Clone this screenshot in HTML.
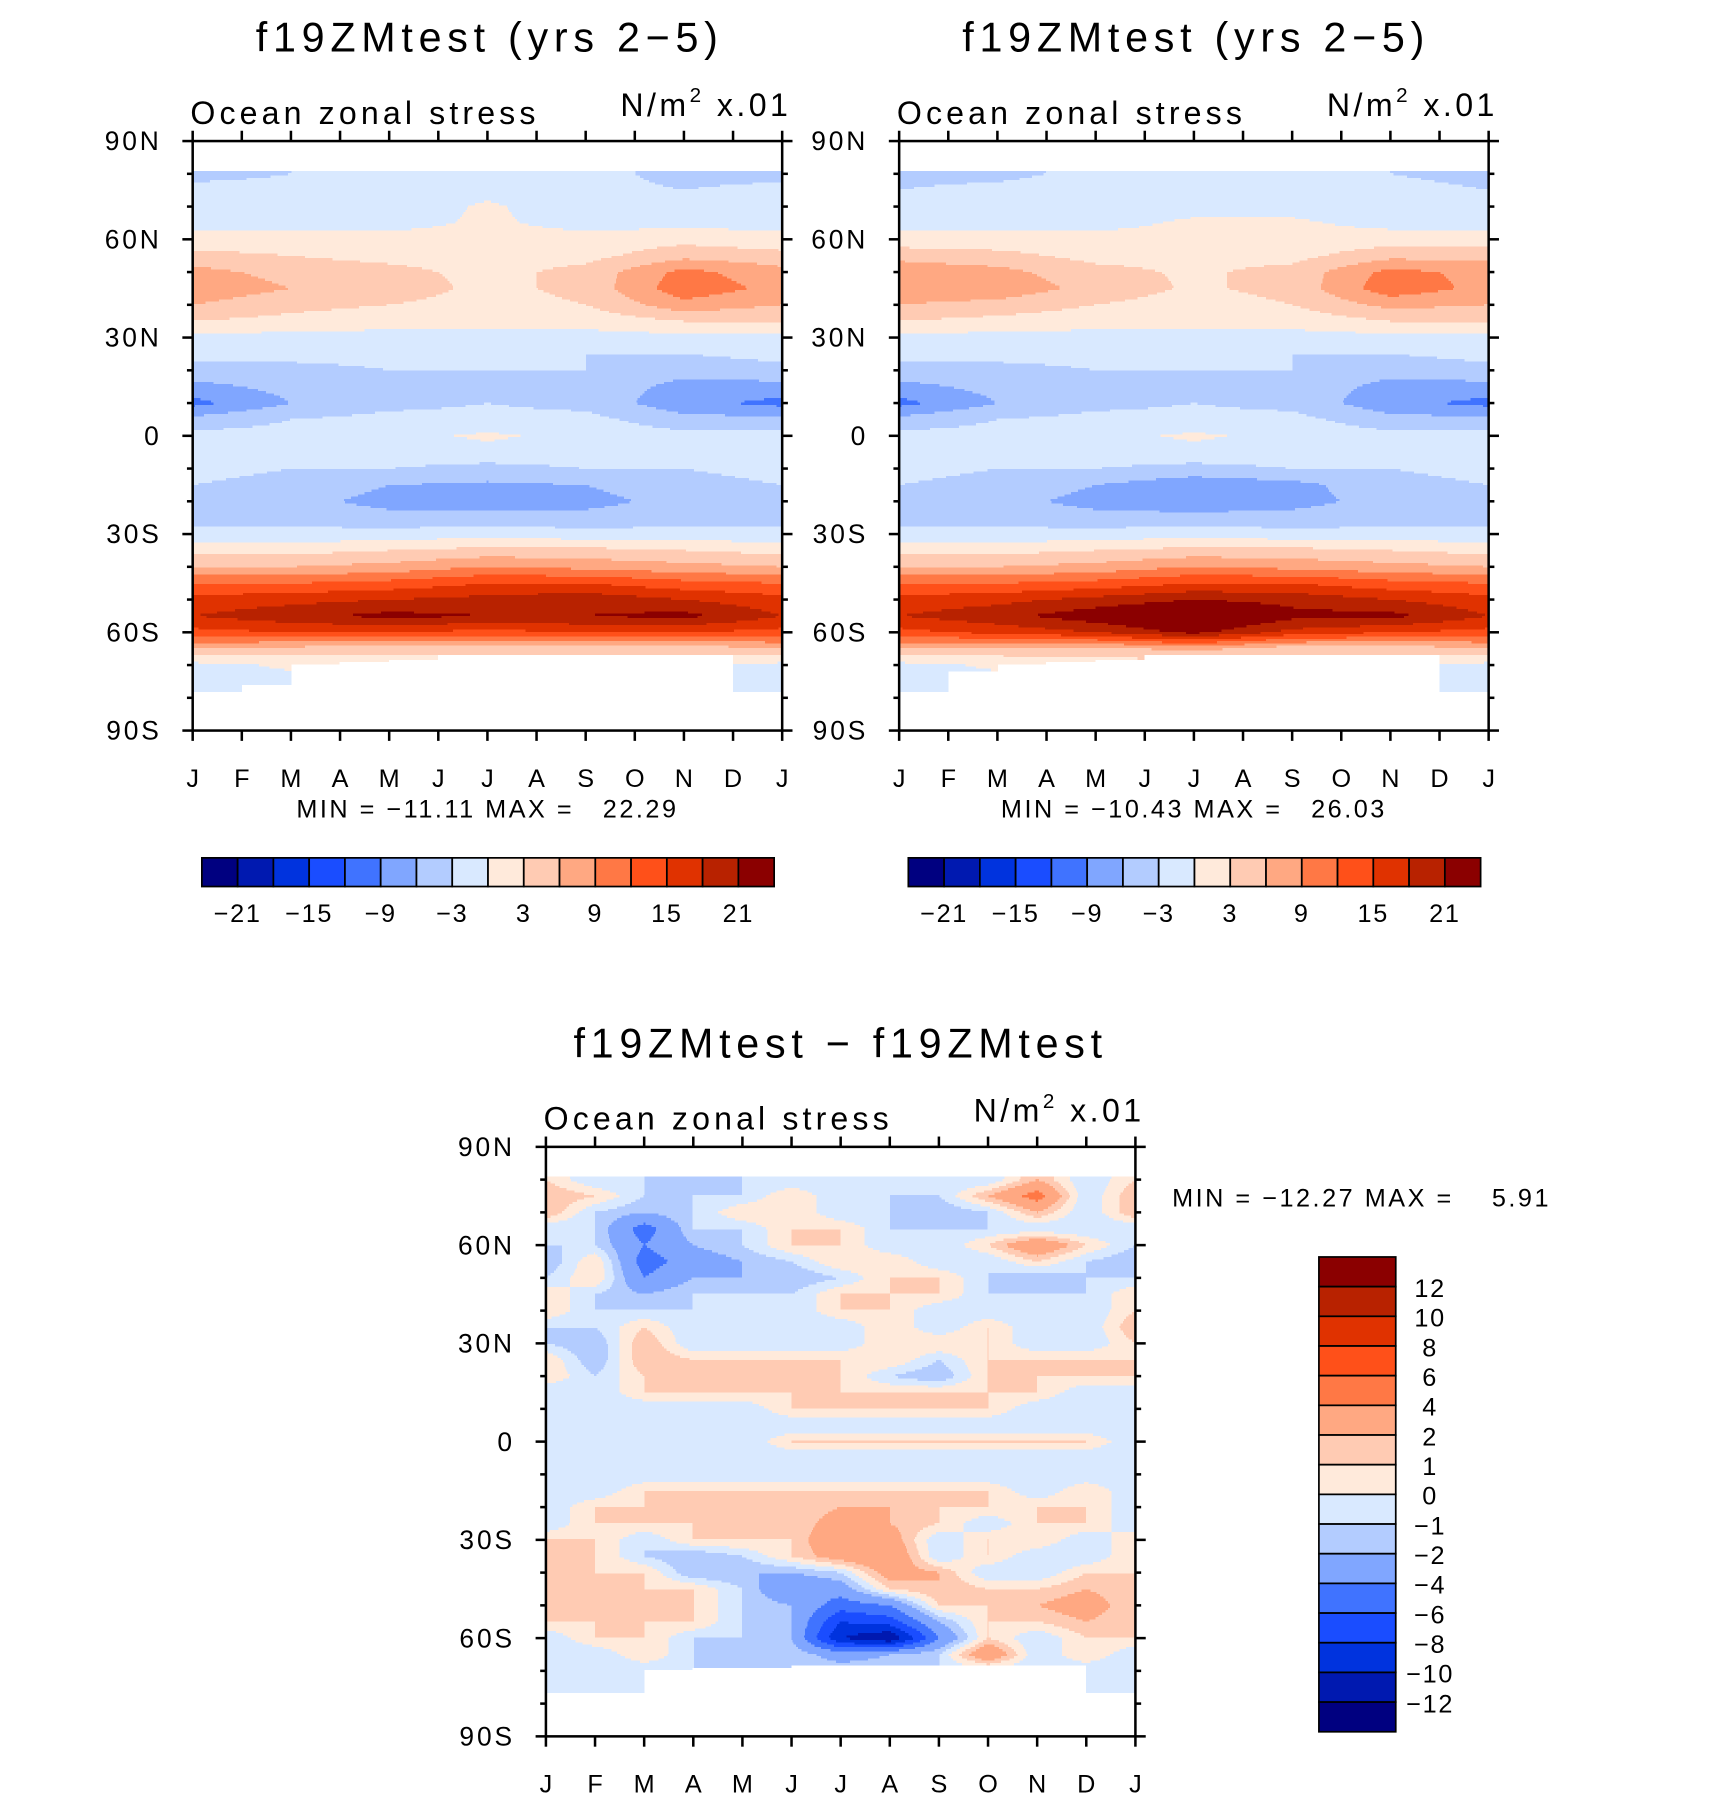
<!DOCTYPE html>
<html><head><meta charset="utf-8"><style>
html,body{margin:0;padding:0;background:#fff;}
svg{display:block;}
text{font-family:"Liberation Sans","DejaVu Sans",sans-serif;fill:#000;white-space:pre;}
</style></head><body>
<svg id="fig" width="1710" height="1796" viewBox="0 0 1491 1566" xmlns="http://www.w3.org/2000/svg">
<g id="layer"></g>
</svg>
<script>
// ---- data ----
const months = ["J","F","M","A","M","J","J","A","S","O","N","D","J"];
const latTicks = ["90N","60N","30N","0","30S","60S","90S"];
const rowLats = [80,75,70,65,60,55,50,45,40,35,30,25,20,15,10,5,0,-5,-10,-15,-20,-25,-30,-35,-40,-45,-50,-55,-60,-65,-70,-75,-80];
const colors = ["#000080","#0019b0","#0033de","#1a4dff","#4073ff","#80a6ff","#b3ccff","#d9e9ff","#ffeadb","#ffcbb3","#ffa882","#ff7845","#ff5019","#e03200","#b82200","#8b0000"];
const levels12 = [-21,-18,-15,-12,-9,-6,-3,0,3,6,9,12,15,18,21];
const levelsDiff = [-12,-10,-8,-6,-4,-2,-1,0,1,2,4,6,8,10,12];
const cbLabels12 = ["-21","-15","-9","-3","3","9","15","21"];
const cbLabelsDiff = ["12","10","8","6","4","2","1","0","-1","-2","-4","-6","-8","-10","-12"];
// panel 1: columns J,M,M,J,S,N,J
const p1 = [
[-4,-3,-2,-2,-2,-4,-4],[-2,-2,-1,-1,-2,-3,-2],[-2,-1,-2,0.5,-2,-2,-2],[-1,-1,-1,0.5,-1,-1,-1],
[1,1,1,1,1,2,1],[4,3,2,1.5,2,5,4],[7,5,4,2,4,10,7],[8,6,5,2,4,11,8],[6,4,3,1.5,3,8,6],[3,2,1,1,1,3,3],
[-1,-1,-1,-1,-1,-1,-1],[-2,-2,-2,-2,-3,-3,-2],[-4,-4,-3,-3,-3,-5,-4],[-7,-5,-4,-3,-4,-7,-7],[-10,-6,-4,-3,-4,-8,-10],
[-5,-3,-2,-2,-2,-5,-5],[-2,-2,-1,0.5,-1,-2,-2],[-1.5,-2,-1.5,-1,-1.5,-2,-1.5],[-2,-3,-3,-4,-3,-3,-2],[-3,-4,-6,-6.5,-6,-4,-3],
[-3.5,-5,-7,-7,-7,-5,-3.5],[-4,-4,-5,-5,-5,-4,-4],[-2,-2,-2,-1,-2,-2,-2],[2,2,3,4,4,3,2],[6,6,7,9,8,7,6],
[12,12,13,15,15,13,12],[16,17,18,19,20,18,16],[18,20,22,21,21,22,18],[14,15,15,14,15,15,14],[6,5,4,4,4,4,6],
[-1,0.5,1,1,1,1,-1],[-1,-1,-1,-1,-1,-1,-1],[-1,-1,-1,-1,-1,-1,-1]];
const p2 = [
[-4,-4,-2,-2,-2,-3,-4],[-3,-2,-1,-1,-2,-2,-3],[-2,-1,-1,-1,-1,-2,-2],[-1,-1,-1,0.5,0.5,-1,-1],
[1,1,1,1,1,1.5,1],[5,4,2,2,2,5,5],[8,7,4,2.5,4,10,8],[8,8,5,2.5,4,11,8],[6,5,3,1.5,3,7,6],[3,2,1,1,1,3,3],
[-1,-1,-1,-1,-1,-1,-1],[-2,-2,-2,-2,-3,-3,-2],[-4,-4,-3,-3,-3,-5,-4],[-7,-5,-4,-3,-4,-7,-7],[-10,-6,-4,-3,-4,-8,-10],
[-5,-3,-2,-2,-2,-5,-5],[-2,-2,-1,0.5,-1,-2,-2],[-1.5,-2,-1.5,-1,-1.5,-2,-1.5],[-2,-3,-3,-4,-3,-3,-2],[-3,-4,-6,-8,-7,-4,-3],
[-3.5,-5,-7,-8,-7,-5,-3.5],[-4,-4,-5,-5,-5,-4,-4],[-2,-2,-2,-1,-2,-2,-2],[2,2,3,4,4,3,2],[6,6,7,9,8,7,6],
[12,12,13,15,15,13,12],[16,17,19,21,20,18,16],[18,20,23,26,22,22,18],[14,16,18,22,17,15,14],[6,5,5,7,4,4,6],
[-1,0.5,1,1,1,1,-1],[-1,-1,-1,-1,-1,-1,-1],[-1,-1,-1,-1,-1,-1,-1]];
// panel 3: monthly columns J..J
const p3 = [
[1,-1,-1,-2,-1,-1,-1,-1,-1,-1,2,-1,1],[2,1,-1,-1,-1,1,-1,-1,-1,2,5,-1,2],[2,-1,-2,-1,1,1,-1,-1,-2,-1,2,-1,2],
[-1,-1,-5,-1,-1,1,1,-1,-1,-1,-1,-1,-1],[-1,-1,-4,-2,-1,1,1,-1,-1,1,4,1,-1],[-2,1,-5,-3,-2,-1,1,1,-1,-1,1,-1,-2],
[-1,1,-4,-2,-2,-2,-1,1,1,-1,-2,-1,-1],[1,-1,-2,-1,-1,-1,1,1,1,-1,-1,-1,1],[1,-1,-1,-1,-1,-1,1,1,-1,-1,-1,-1,1],
[-1,-1,1,-1,-1,-1,-1,1,-1,1,-1,-1,2],[-1,-2,2,-1,-1,-1,-1,1,1,1,-1,-1,1],[1,-2,2,1,1,1,1,1,-1,1,1,1,1],
[1,-1,1,1,2,1,1,-1,-2,1,1,1,1],[-1,-1,1,1,1,1,1,1,1,1,1,-1,-1],[-1,-1,-1,-1,-1,1,1,1,1,1,-1,-1,-1],
[-1,-1,-1,-1,-1,-1,-1,-1,-1,-1,-1,-1,-1],[-1,-1,-1,-1,-1,1,1,1,1,1,1,1,-1],[-1,-1,-1,-1,-1,-1,-1,-1,-1,-1,-1,-1,-1],
[-1,-1,-1,-1,-1,-1,-1,-1,-1,-1,-1,-1,-1],[-1,-1,1,1,1,1,1,1,1,1,-1,1,-1],[-1,1,1,2,1,1,2,2,1,1,1,1,-1],
[-1,1,1,1,1,1,3,2,1,-1,1,1,-1],[1,1,-1,1,1,1,4,3,-1,1,1,-1,1],[1,1,-1,-2,-1,1,3,4,-1,1,-1,-1,1],
[1,1,1,-2,-2,-2,-1,3,2,-1,-1,1,1],[1,1,1,1,-1,-4,-3,1,2,1,1,2,1],[1,2,2,1,-1,-2,-5,-4,1,1,2,3,1],
[1,1,1,1,-1,-2,-8,-7,-2,1,1,2,1],[-1,1,1,-1,-1,-2,-10,-12,-4,1,-1,1,1],[-1,-1,1,-1,-2,-1,-3,-2,-1,4,-1,1,-1],
[-1,-1,-1,-1,-1,-1,-1,-1,-1,-1,-1,-1,-1],[-1,-1,-1,-1,-1,-1,-1,-1,-1,-1,-1,-1,-1],[-1,-1,-1,-1,-1,-1,-1,-1,-1,-1,-1,-1,-1]];
const cut1 = [-78,-76,-70,-69,-68,-67,-67,-67,-67,-67,-67,-78];
const cut2 = [-78,-72,-70,-69,-68,-67,-67,-67,-67,-67,-67,-78];
const cut3 = [-77,-77,-70,-69,-69,-68,-68,-68,-68,-68,-68,-77];
const northCut = 81;

const NS = "http://www.w3.org/2000/svg";
const layer = document.getElementById('layer');
function mk(tag, attrs, parent){const e=document.createElementNS(NS,tag);for(const k in attrs)e.setAttribute(k,attrs[k]);(parent||layer).appendChild(e);return e;}
function txt(x,y,s,size,anchor,parent){const t=mk('text',{x:x,y:y,'font-size':size,'text-anchor':anchor||'start'},parent);t.textContent=s;return t;}

function sample(grid, xf, lat){
  const C = grid[0].length;
  let fx = xf*(C-1); let i0=Math.min(Math.floor(fx),C-2); let tx=fx-i0;
  let fr = (rowLats[0]-lat)/5; fr=Math.max(0,Math.min(rowLats.length-1,fr));
  let j0=Math.min(Math.floor(fr),rowLats.length-2); let ty=fr-j0;
  const a=grid[j0][i0],b=grid[j0][i0+1],c=grid[j0+1][i0],d=grid[j0+1][i0+1];
  return (a*(1-tx)+b*tx)*(1-ty)+(c*(1-tx)+d*tx)*ty;
}
function colorIdx(v,lv){let k=0;for(const b of lv) if(v>=b)k++;return k;}

function panel(name,x0,y0,W,H,grid,lv,cut){
  const g=mk('g',{});
  
  
  const lat2y = lat => y0 + (90-lat)/180*H;
  const m2x = m => x0 + m/12*W;
  const fg=mk('g',{'shape-rendering':'crispEdges'},g);
  
  
  const dy=2;
  for(let yy=y0; yy<y0+H; yy+=dy){
    const lat = 90-((yy+dy/2)-y0)/H*180;
    let runStart=null, runCol=null;
    for(let xx=0; xx<=W; xx++){
      let col=null;
      if(xx<W){
        const xf=(xx+0.5)/W; const mi=Math.min(11,Math.floor(xf*12));
        if(lat<=northCut && lat>=cut[mi]) col=colors[colorIdx(sample(grid,xf,lat),lv)];
      }
      if(col!==runCol){
        if(runCol){const r=mk('rect',{x:x0+runStart,y:yy,width:xx-runStart,height:dy+0.3,fill:runCol},fg);
          
          }
        runStart=xx; runCol=col;
      }
    }
  }
  const ax=mk('g',{stroke:'#000','stroke-width':2.2,fill:'none'},g);
  
  
  mk('rect',{x:x0,y:y0,width:W,height:H},ax);
  for(let lat=90;lat>=-90;lat-=10){
    const y=lat2y(lat), L=(lat%30===0)?9:5;
    mk('line',{x1:x0-L,y1:y,x2:x0,y2:y},ax);
    mk('line',{x1:x0+W,y1:y,x2:x0+W+L,y2:y},ax);
  }
  for(let m=0;m<=12;m++){
    const x=m2x(m);
    mk('line',{x1:x,y1:y0+H,x2:x,y2:y0+H+9},ax);
    mk('line',{x1:x,y1:y0-9,x2:x,y2:y0},ax);
  }
  latTicks.forEach((s,i)=>{const t=txt(x0-27,lat2y(90-i*30)+8,s,23,'end',g);
    t.setAttribute('letter-spacing','2.5');
    
    });
  months.forEach((s,i)=>{const t=txt(m2x(i),y0+H+49,s,22,'middle',g);
    
    });
  const st=txt(x0-2,y0-15,'Ocean zonal stress',28,'start',g);
  
  
  st.setAttribute('letter-spacing','3.6');
  const un=mk('text',{x:x0+W+8,y:y0-22,'font-size':28,'text-anchor':'end','letter-spacing':'3'},g);
  
  
  un.innerHTML='N/m<tspan dy="-12" font-size="18">2</tspan><tspan dy="12"> x.01</tspan>';
  return g;
}
function hbar(name,x0,y0,W,H,labels){
  const g=mk('g',{});  
  const w=W/16;
  colors.forEach((c,i)=>{const r=mk('rect',{x:x0+i*w,y:y0,width:w,height:H,fill:c,stroke:'#000','stroke-width':1.5},g);
     });
  labels.forEach((s,i)=>{const t=txt(x0+(1+2*i)*w,y0+H+31,s.replace('-','\u2212'),22,'middle',g);
    t.setAttribute('letter-spacing','1.5');
     });
}
function title(x,y,s){const t=txt(x,y,s,36,'middle'); t.setAttribute('letter-spacing','5');
   }
function minmax(x,y,s,anchor){const t=txt(x,y,s,22,anchor); t.setAttribute('letter-spacing','2.2');
   }

title(427,45,'f19ZMtest (yrs 2\u22125)');
title(1043,45,'f19ZMtest (yrs 2\u22125)');
panel('panel-model-1',168,123,514,514,p1,levels12,cut1);
panel('panel-model-2',784,123,514,514,p2,levels12,cut2);
minmax(425,713,'MIN = \u221211.11 MAX =   22.29','middle');
minmax(1041,713,'MIN = \u221210.43 MAX =   26.03','middle');
hbar('colorbar-1',176,748,499,25,cbLabels12);
hbar('colorbar-2',792,748,499,25,cbLabels12);
title(733,922,'f19ZMtest \u2212 f19ZMtest');
panel('panel-difference',476,1000,514,514,p3,levelsDiff,cut3);
minmax(1022,1052,'MIN = \u221212.27 MAX =    5.91','start');
// vertical colorbar
(function(){
  const g=mk('g',{});  
  const x0=1150,y0=1096,W=67,H=414,h=H/16;
  for(let i=0;i<16;i++){const r=mk('rect',{x:x0,y:y0+i*h,width:W,height:h,fill:colors[15-i],stroke:'#000','stroke-width':1.5},g);
     }
  cbLabelsDiff.forEach((s,i)=>{const t=txt(1247,y0+(i+1)*h+9,s.replace('-','\u2212'),22,'middle',g);
    t.setAttribute('letter-spacing','1.5');
     });
})();
</script>
</body></html>
